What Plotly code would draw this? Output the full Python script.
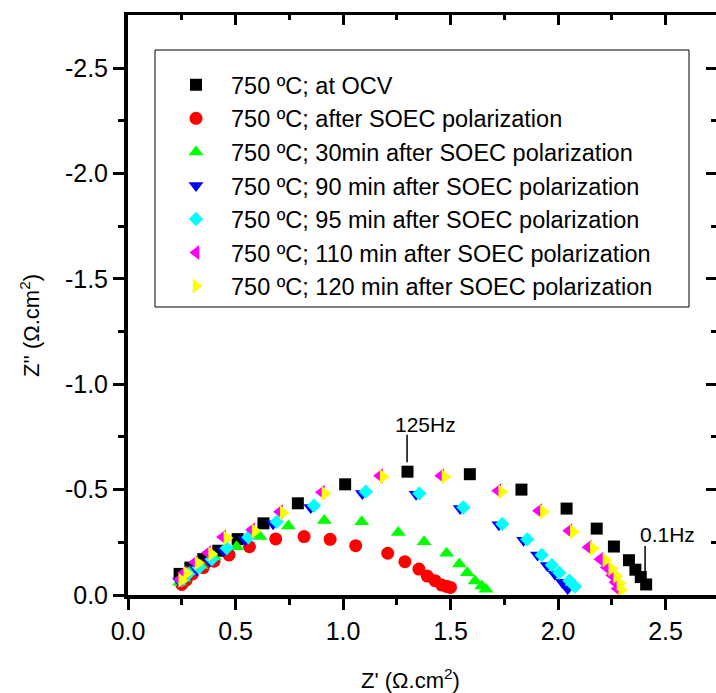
import plotly.graph_objects as go

# ---------------- data (Z' in ohm.cm2, -Z'' in ohm.cm2) ----------------
names = [
    "750 ºC; at OCV",
    "750 ºC; after SOEC polarization",
    "750 ºC; 30min after SOEC polarization",
    "750 ºC; 90 min after SOEC polarization",
    "750 ºC; 95 min after SOEC polarization",
    "750 ºC; 110 min after SOEC polarization",
    "750 ºC; 120 min after SOEC polarization",
]

ocv_zr = [0.24, 0.29, 0.35, 0.42, 0.51, 0.63, 0.79, 1.01, 1.30, 1.59, 1.83, 2.04, 2.18, 2.26, 2.33, 2.36, 2.385, 2.41]
ocv_zi = [0.10, 0.13, 0.17, 0.21, 0.265, 0.34, 0.435, 0.525, 0.585, 0.573, 0.50, 0.41, 0.315, 0.23, 0.165, 0.12, 0.085, 0.05]

pol_zr = [0.25, 0.27, 0.30, 0.35, 0.40, 0.47, 0.565, 0.687, 0.819, 0.94, 1.059, 1.208, 1.288, 1.353, 1.392, 1.428, 1.459, 1.485, 1.50]
pol_zi = [0.05, 0.07, 0.10, 0.13, 0.16, 0.19, 0.229, 0.266, 0.277, 0.264, 0.234, 0.198, 0.158, 0.123, 0.09, 0.068, 0.047, 0.04, 0.036]

m30_zr = [0.24, 0.26, 0.29, 0.34, 0.40, 0.505, 0.614, 0.746, 0.913, 1.087, 1.257, 1.377, 1.482, 1.541, 1.578, 1.614, 1.645, 1.665]
m30_zi = [0.06, 0.08, 0.11, 0.14, 0.18, 0.229, 0.277, 0.327, 0.353, 0.348, 0.296, 0.253, 0.198, 0.147, 0.106, 0.066, 0.043, 0.027]

m90_zr = [0.24, 0.27, 0.32, 0.38, 0.445, 0.545, 0.675, 0.85, 1.09, 1.34, 1.545, 1.725, 1.84, 1.905, 1.95, 1.985, 2.02, 2.045]
m90_zi = [0.065, 0.09, 0.12, 0.16, 0.21, 0.262, 0.338, 0.415, 0.482, 0.478, 0.41, 0.333, 0.26, 0.19, 0.14, 0.10, 0.06, 0.03]

m95_zr = [0.25, 0.28, 0.33, 0.39, 0.459, 0.56, 0.692, 0.865, 1.106, 1.355, 1.56, 1.741, 1.857, 1.924, 1.971, 2.006, 2.053, 2.079]
m95_zi = [0.07, 0.10, 0.13, 0.17, 0.222, 0.274, 0.348, 0.424, 0.49, 0.482, 0.416, 0.337, 0.264, 0.19, 0.142, 0.106, 0.068, 0.04]

m110_zr = [0.24, 0.26, 0.31, 0.37, 0.44, 0.575, 0.705, 0.90, 1.17, 1.455, 1.72, 1.91, 2.05, 2.14, 2.195, 2.225, 2.25, 2.265, 2.275]
m110_zi = [0.075, 0.105, 0.155, 0.2, 0.275, 0.31, 0.395, 0.487, 0.566, 0.566, 0.495, 0.4, 0.305, 0.226, 0.17, 0.13, 0.094, 0.06, 0.03]

m120_zr = [0.25, 0.273, 0.326, 0.389, 0.46, 0.591, 0.722, 0.916, 1.187, 1.474, 1.738, 1.932, 2.071, 2.164, 2.223, 2.25, 2.273, 2.288, 2.296]
m120_zi = [0.07, 0.103, 0.152, 0.194, 0.27, 0.304, 0.39, 0.482, 0.561, 0.561, 0.49, 0.395, 0.30, 0.221, 0.166, 0.126, 0.09, 0.055, 0.024]

x_tickvals = [0.0, 0.5, 1.0, 1.5, 2.0, 2.5]
x_ticktext = ["0.0", "0.5", "1.0", "1.5", "2.0", "2.5"]
x_minor = [0.25, 0.75, 1.25, 1.75, 2.25]
y_tickvals = [0.0, -0.5, -1.0, -1.5, -2.0, -2.5]
y_ticktext = ["0.0", "-0.5", "-1.0", "-1.5", "-2.0", "-2.5"]
y_minor = [-0.25, -0.75, -1.25, -1.75, -2.25]

# ---------------- style ----------------
series = [
    (ocv_zr, ocv_zi, "square", 12, "#000000"),
    (pol_zr, pol_zi, "circle", 13, "#FF0000"),
    (m30_zr, m30_zi, "triangle-up", 13, "#00FF00"),
    (m90_zr, m90_zi, "triangle-down", 13, "#0000FF"),
    (m95_zr, m95_zi, "diamond", 11, "#00FFFF"),
    (m110_zr, m110_zi, "triangle-left", 13, "#FF00FF"),
    (m120_zr, m120_zi, "triangle-right", 13, "#FFFF00"),
]

FONT = "Arial, Liberation Sans, sans-serif"
W, H = 716, 693
L, R, T, B = 128, 0, 15, 98
PW, PH = W - L - R, H - T - B
XR = [0, PW / 215.0]
YR = [0, -PH / 210.8]


def px(xp):
    return (xp - L) / PW


def py(yp):
    return (H - B - yp) / PH


fig = go.Figure()
for (zr, zi, sym, size, col), name in zip(series, names):
    fig.add_trace(go.Scatter(
        x=zr, y=[-v for v in zi], mode="markers", name=name,
        marker=dict(symbol=sym, size=size, color=col, line=dict(width=0)),
    ))

# helper trace for mirrored top / right axes
fig.add_trace(go.Scatter(x=[None], y=[None], xaxis="x2", yaxis="y2",
                         showlegend=False, hoverinfo="skip"))

axis_common = dict(showgrid=False, zeroline=False, linecolor="black",
                   tickcolor="black", tickwidth=3, automargin=False)

fig.update_layout(
    template="none",
    width=W, height=H,
    margin=dict(l=L, r=R, t=T, b=B, pad=0, autoexpand=False),
    paper_bgcolor="white", plot_bgcolor="white",
    font=dict(family=FONT, size=22, color="black"),
    showlegend=True,
    legend=dict(x=px(161), y=py(63), xanchor="left", yanchor="top",
                bgcolor="rgba(0,0,0,0)", borderwidth=0,
                font=dict(family=FONT, size=23.5, color="black"),
                itemwidth=60, tracegroupgap=0),
    xaxis=dict(range=XR, tickmode="array", tickvals=x_tickvals, ticktext=x_ticktext,
               ticks="outside", ticklen=11, showline=True, linewidth=4,
               minor=dict(tickmode="array", tickvals=x_minor, ticks="outside",
                          ticklen=6, tickwidth=3, tickcolor="black"),
               tickfont=dict(size=25, family=FONT, color="black"), **axis_common),
    yaxis=dict(range=YR, tickmode="array", tickvals=y_tickvals, ticktext=y_ticktext,
               ticks="outside", ticklen=11, showline=True, linewidth=4,
               minor=dict(tickmode="array", tickvals=y_minor, ticks="outside",
                          ticklen=6, tickwidth=3, tickcolor="black"),
               tickfont=dict(size=25, family=FONT, color="black"), **axis_common),
    xaxis2=dict(range=XR, overlaying="x", side="top", tickmode="array",
                tickvals=x_tickvals, showticklabels=False, ticks="inside", ticklen=10,
                showline=True, linewidth=3,
                minor=dict(tickmode="array", tickvals=x_minor, ticks="inside",
                           ticklen=5, tickwidth=3, tickcolor="black"),
                **axis_common),
    yaxis2=dict(range=YR, overlaying="y", side="right", tickmode="array",
                tickvals=y_tickvals, showticklabels=False, ticks="inside", ticklen=10,
                showline=False,
                minor=dict(tickmode="array", tickvals=y_minor, ticks="inside",
                           ticklen=5, tickwidth=3, tickcolor="black"),
                **axis_common),
)

# legend frame
fig.add_shape(type="rect", xref="paper", yref="paper",
              x0=px(155), x1=px(689), y0=py(307), y1=py(50),
              line=dict(color="black", width=1), fillcolor="rgba(0,0,0,0)", layer="below")

# frequency markers
fig.add_shape(type="line", xref="x", yref="y", x0=1.298, x1=1.298, y0=-0.76, y1=-0.63,
              line=dict(color="black", width=1.5))
fig.add_shape(type="line", xref="x", yref="y", x0=2.405, x1=2.405, y0=-0.232, y1=-0.07,
              line=dict(color="black", width=1.5))
fig.add_annotation(x=1.386, y=-0.811, xref="x", yref="y", text="125Hz", showarrow=False,
                   xanchor="center", yanchor="middle",
                   font=dict(size=21, family=FONT, color="black"))
fig.add_annotation(x=2.507, y=-0.285, xref="x", yref="y", text="0.1Hz", showarrow=False,
                   xanchor="center", yanchor="middle",
                   font=dict(size=21, family=FONT, color="black"))

# axis titles
fig.add_annotation(x=px(410), y=py(679), xref="paper", yref="paper",
                   text="Z' (Ω.cm<sup>2</sup>)", showarrow=False,
                   xanchor="center", yanchor="middle",
                   font=dict(size=22, family=FONT, color="black"))
fig.add_annotation(x=px(30), y=py(326), xref="paper", yref="paper",
                   text="Z'' (Ω.cm<sup>2</sup>)", showarrow=False, textangle=-90,
                   xanchor="center", yanchor="middle",
                   font=dict(size=22, family=FONT, color="black"))

fig.write_html(
    "out.html",
    config={"displayModeBar": False},
    post_script="document.body.style.margin='0';document.body.style.overflow='hidden';",
)
